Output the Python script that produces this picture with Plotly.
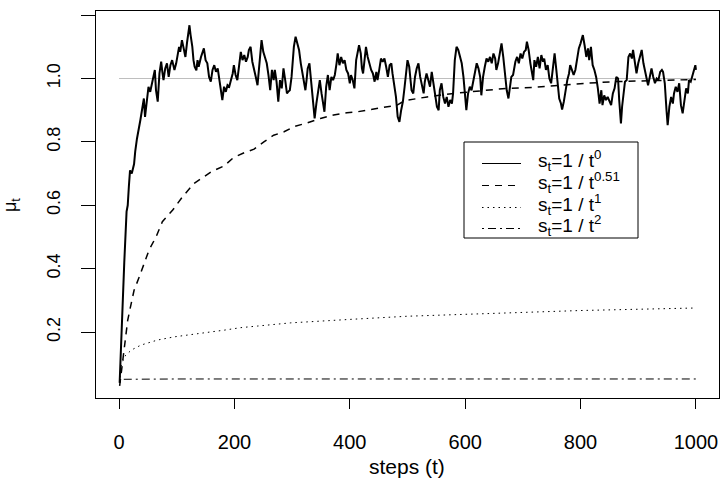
import plotly.graph_objects as go

# ---- data ----
t_solid = [1, 5, 9, 13, 15, 17, 19, 22, 26, 28, 31, 37, 40, 43, 45, 48, 51, 54, 57, 60, 62, 64, 67, 70, 73, 75, 77, 80, 83, 86, 89, 92, 96, 99,
           101, 104, 106, 109, 112, 115, 118, 120, 122, 124, 127, 129, 131, 134, 136, 138, 142, 147, 150, 153, 156, 159, 162, 165, 168, 171, 173, 176, 179,
           182, 185, 188, 191, 194, 197, 199, 202, 205, 208, 211, 214, 217, 220, 223, 225, 228, 231, 234, 237, 240, 243, 246, 247, 250, 253, 256, 259,
           262, 265, 268, 270, 273, 276, 279, 282, 285, 288, 291, 293, 296, 299, 301, 303, 306, 309, 312, 315, 318, 320, 323, 325, 327, 330, 333, 336,
           339, 342, 345, 348, 351, 353, 356, 359, 362, 365, 368, 371, 374, 377, 379, 382, 385, 388, 391, 394, 397, 400, 402, 405, 408, 411, 414, 416,
           419, 421, 423, 425, 428, 431, 434, 437, 440, 443, 446, 448, 451, 454, 457, 460, 463, 466, 469, 472, 474, 477, 480, 483, 486, 489, 492, 495,
           498, 500, 503, 505, 507, 510, 513, 516, 519, 522, 525, 528, 530, 533, 536, 539, 542, 545, 548, 551, 554, 556, 559, 562, 565, 568, 571, 574,
           577, 579, 582, 585, 588, 591, 594, 597, 600, 602, 605, 608, 611, 614, 617, 620, 623, 626, 628, 631, 634, 637, 640, 643, 646, 649, 652, 654,
           657, 660, 663, 666, 669, 672, 675, 678, 680, 683, 685, 687, 690, 693, 696, 699, 702, 705, 707, 710, 713, 716, 718, 720, 723, 726, 729, 732,
           735, 737, 740, 743, 746, 749, 752, 755, 758, 761, 763, 766, 768, 771, 774, 777, 780, 782, 785, 788, 791, 794, 797, 800, 803, 804, 807, 810,
           813, 815, 818, 821, 824, 827, 830, 833, 836, 838, 841, 844, 847, 850, 853, 856, 859, 862, 865, 867, 870, 872, 874, 877, 880, 883, 886, 889,
           891, 894, 897, 900, 903, 906, 909, 912, 915, 917, 920, 923, 926, 929, 932, 935, 938, 941, 943, 946, 949, 951, 954, 957, 960, 962, 965, 968,
           971, 974, 977, 980, 983, 986, 988, 991, 994, 997, 999, 1000]
mu_solid = [0.04, 0.25, 0.42, 0.58, 0.60, 0.66, 0.71, 0.70, 0.73, 0.77, 0.81, 0.87, 0.91, 0.937, 0.879, 0.93, 0.974, 0.958, 0.985, 1.005, 1.027, 0.963, 0.927, 1.016, 1.053, 1.021, 0.995, 1.032, 1.048, 1.005, 1.042, 1.058, 1.027, 1.048,
            1.074, 1.10, 1.084, 1.121, 1.095, 1.068, 1.116, 1.142, 1.168, 1.137, 1.10, 1.058, 1.037, 1.026, 1.058, 1.037, 1.068, 1.095, 1.058, 1.048, 1.005, 0.99, 1.027, 1.042, 1.021, 1.032, 1.005, 0.963, 0.932,
            0.974, 0.958, 0.979, 0.974, 0.995, 1.016, 1.042, 1.011, 0.995, 1.037, 1.084, 1.058, 1.074, 1.053, 1.068, 1.09, 1.10, 1.053, 1.032, 1.005, 0.979, 1.037, 1.09, 1.121, 1.084, 1.068, 1.048, 1.011,
            0.963, 1.027, 0.995, 1.027, 0.99, 0.927, 0.995, 0.969, 1.032, 0.995, 0.953, 0.958, 0.963, 1.005, 1.058, 1.10, 1.132, 1.111, 1.09, 1.048, 1.011, 0.985, 0.963, 0.995, 1.032, 1.048, 0.995, 0.942,
            0.874, 0.921, 0.963, 0.995, 0.953, 0.932, 0.895, 0.974, 1.011, 0.963, 1.005, 0.995, 1.011, 1.048, 1.079, 1.042, 1.068, 1.048, 1.058, 1.027, 1.016, 0.985, 1.011, 0.995, 0.969, 1.058, 1.09, 1.105,
            1.079, 1.032, 1.016, 1.048, 1.10, 1.068, 1.048, 1.027, 1.016, 0.99, 1.021, 0.995, 1.027, 1.063, 1.053, 1.063, 1.037, 1.005, 1.042, 1.048, 1.016, 0.974, 0.942, 0.879, 0.863, 0.90, 0.927, 0.974,
            1.027, 1.058, 1.037, 0.995, 0.963, 0.953, 1.005, 1.032, 1.048, 1.005, 0.974, 0.953, 0.99, 1.016, 0.995, 0.974, 1.021, 0.985, 0.937, 0.911, 0.90, 0.963, 0.985, 0.942, 0.921, 0.942, 0.911, 0.932,
            0.921, 0.953, 1.058, 1.10, 1.09, 1.068, 1.048, 1.005, 0.953, 0.90, 0.953, 0.974, 0.963, 0.995, 1.027, 1.048, 1.032, 1.005, 0.947, 1.005, 1.037, 1.063, 1.053, 1.068, 1.048, 1.079, 1.063, 1.027,
            1.048, 1.079, 1.111, 1.068, 1.005, 0.963, 0.937, 0.985, 1.005, 1.011, 1.037, 1.053, 1.068, 1.048, 1.079, 1.063, 1.084, 1.09, 1.116, 1.09, 1.048, 1.011, 0.995, 1.058, 1.037, 1.068, 1.032, 1.074,
            1.053, 1.063, 1.027, 1.042, 1.0, 0.985, 1.037, 1.079, 1.027, 0.974, 0.937, 0.921, 0.902, 0.927, 0.963, 0.995, 1.016, 1.042, 1.027, 1.011, 1.027, 1.068, 1.095, 1.111, 1.127, 1.137, 1.105, 1.068,
            1.095, 1.058, 1.10, 1.042, 1.027, 1.005, 0.969, 0.921, 0.963, 0.916, 0.947, 0.932, 0.942, 0.927, 0.916, 0.953, 0.969, 1.005, 1.0, 0.932, 0.858, 0.911, 0.953, 0.99, 0.995, 1.068, 1.079, 1.063,
            1.09, 1.053, 1.016, 1.048, 1.068, 1.09, 1.048, 1.021, 0.995, 0.979, 1.005, 1.032, 1.005, 0.985, 1.0, 0.995, 1.021, 1.027, 1.021, 0.985, 0.90, 0.853, 0.911, 0.942, 0.921, 0.953, 0.974, 0.958,
            0.985, 0.916, 0.89, 0.927, 0.969, 0.953, 0.995, 0.99, 1.011, 1.032, 1.042, 1.027]

t_dash = [1, 6, 11, 15, 21, 26, 35, 44, 52, 64, 75, 93, 110, 130, 145, 160, 182, 198, 217, 234, 251, 268, 286, 303, 326, 349, 372, 395, 413,
          436, 459, 482, 495, 534, 580, 626, 672, 718, 765, 811, 857, 903, 949, 1000]
mu_dash = [0.03, 0.10, 0.175, 0.238, 0.29, 0.332, 0.374, 0.417, 0.459, 0.50, 0.548, 0.585, 0.627, 0.669, 0.688, 0.706, 0.724, 0.75, 0.766, 0.777,
           0.80, 0.821, 0.832, 0.848, 0.86, 0.874, 0.885, 0.892, 0.895, 0.902, 0.909, 0.916, 0.93, 0.942, 0.953, 0.961, 0.969, 0.972, 0.979, 0.985,
           0.99, 0.993, 0.995, 0.997]

t_dot = [1, 3, 9, 21, 38, 67, 96, 124, 153, 182, 211, 240, 269, 297, 400, 500, 600, 700, 800, 900, 1000]
mu_dot = [0.04, 0.09, 0.122, 0.143, 0.159, 0.175, 0.185, 0.193, 0.199, 0.206, 0.214, 0.219, 0.224, 0.229, 0.240, 0.250, 0.256, 0.263,
          0.268, 0.272, 0.276]

t_dashdot = [1, 5, 100, 300, 500, 700, 1000]
mu_dashdot = [0.04, 0.051, 0.052, 0.052, 0.052, 0.052, 0.052]

t_ref = [0, 1000]
mu_ref = [1.0, 1.0]

x_ticks = [0, 200, 400, 600, 800, 1000]
y_ticks = [0.2, 0.4, 0.6, 0.8, 1.0, 1.2]
y_tick_text = ["0.2", "0.4", "0.6", "0.8", "1.0", "1.2"]

labels = ["s<sub>t</sub>=1 / t<sup>0</sup>", "s<sub>t</sub>=1 / t<sup>0.51</sup>",
          "s<sub>t</sub>=1 / t<sup>1</sup>", "s<sub>t</sub>=1 / t<sup>2</sup>"]

FONT = "Liberation Sans, Arial, Helvetica, sans-serif"

# ---- figure geometry (pixels) ----
W, H = 724, 478
ML, MR, MT, MB = 96, 5, 11, 80
PW, PH = W - ML - MR, H - MT - MB


def px(xp):
    return (xp - ML) / PW


def py(yp):
    return (H - MB - yp) / PH


styles = [
    dict(color="black", width=2),
    dict(color="black", width=1.5, dash="7px,6px"),
    dict(color="black", width=1, dash="1.5px,4px"),
    dict(color="black", width=1, dash="2px,4px,8px,4px"),
]

fig = go.Figure()
fig.add_trace(go.Scatter(x=t_ref, y=mu_ref, mode="lines", line=dict(color="#bebebe", width=1),
                         showlegend=False, hoverinfo="skip"))
for tx, my, lab, st in [(t_solid, mu_solid, labels[0], styles[0]),
                        (t_dash, mu_dash, labels[1], styles[1]),
                        (t_dot, mu_dot, labels[2], styles[2]),
                        (t_dashdot, mu_dashdot, labels[3], styles[3])]:
    fig.add_trace(go.Scatter(x=tx, y=my, mode="lines", name=lab, line=st, showlegend=False))

# ---- legend drawn as a boxed key, like R's legend() ----
shapes = [dict(type="rect", xref="paper", yref="paper", x0=px(464), x1=px(638), y0=py(238), y1=py(142),
               line=dict(color="black", width=1), fillcolor="white", layer="above")]
annotations = []
row_y = [163.5, 185.5, 207.5, 228.5]
for i, (lab, st) in enumerate(zip(labels, styles)):
    lst = dict(st)
    lst["width"] = 1
    shapes.append(dict(type="line", xref="paper", yref="paper", x0=px(482), x1=px(521),
                       y0=py(row_y[i]), y1=py(row_y[i]), line=lst, layer="above"))
    annotations.append(dict(text=lab, x=px(536), y=py(row_y[i] - 3), xref="paper", yref="paper",
                            showarrow=False, xanchor="left", yanchor="middle",
                            font=dict(size=19, family=FONT)))

annotations += [
    dict(text="steps (t)", x=px(407), y=py(466), xref="paper", yref="paper",
         showarrow=False, font=dict(size=21), xanchor="center", yanchor="middle"),
    dict(text="μ<sub>t</sub>", x=px(12), y=py(205), xref="paper", yref="paper",
         showarrow=False, font=dict(size=18), textangle=-90, xanchor="center", yanchor="middle"),
]

fig.update_layout(
    width=W, height=H,
    margin=dict(l=ML, r=MR, t=MT, b=MB),
    paper_bgcolor="white", plot_bgcolor="white",
    font=dict(family=FONT, size=18, color="black"),
    showlegend=False,
    shapes=shapes,
    annotations=annotations,
)
fig.update_xaxes(range=[-40, 1040], tickvals=x_ticks, ticks="outside", ticklen=10, tickwidth=1,
                 tickcolor="black", showline=True, linecolor="black", linewidth=1, mirror=True,
                 showgrid=False, zeroline=False, tickfont=dict(size=20), ticklabelstandoff=16)
fig.update_yaxes(range=[-0.008, 1.213], tickvals=y_ticks, ticktext=y_tick_text, ticks="outside",
                 ticklen=14, tickwidth=1, tickcolor="black", showline=True, linecolor="black",
                 linewidth=1, mirror=True, showgrid=False, zeroline=False, tickangle=-90,
                 tickfont=dict(size=18), ticklabelstandoff=14)

fig.write_html("out.html")
